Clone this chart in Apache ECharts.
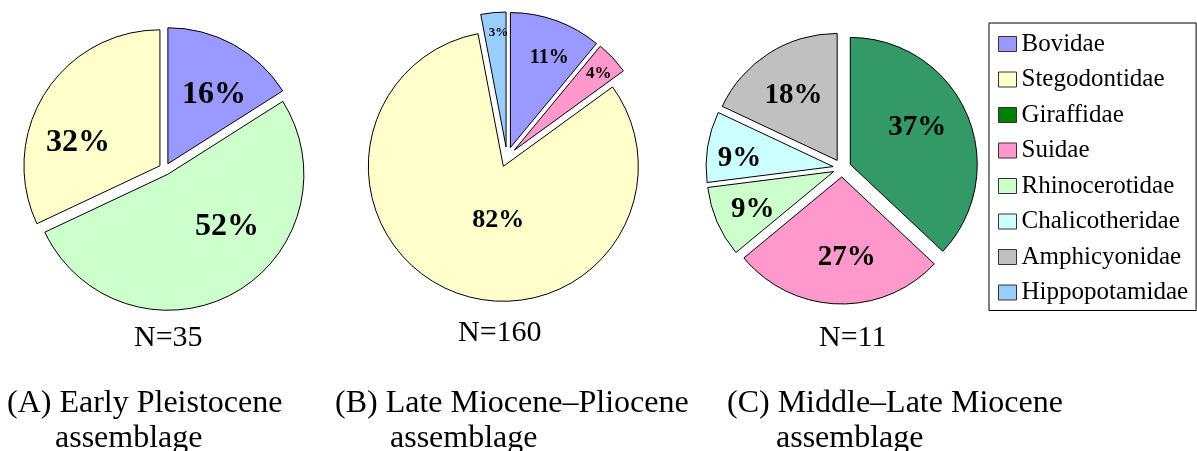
<!DOCTYPE html>
<html>
<head>
<meta charset="utf-8">
<script src="https://cdn.jsdelivr.net/npm/echarts@6/dist/echarts.min.js"></script>
<style>
html,body{margin:0;padding:0;background:#fff;}
#chart{width:1197px;height:451px;}
</style>
</head>
<body>
<div id="chart"></div>
<script>
// ---------- data ----------
const familiesA = ['Bovidae', 'Rhinocerotidae', 'Stegodontidae'];
const percentA = [16, 52, 32];
const familiesB = ['Bovidae', 'Suidae', 'Stegodontidae', 'Hippopotamidae'];
const percentB = [11, 4, 82, 3];
const familiesC = ['Giraffidae', 'Suidae', 'Rhinocerotidae', 'Chalicotheridae', 'Amphicyonidae'];
const percentC = [37, 27, 9, 9, 18];
const sampleSizes = [35, 160, 11];
const panelTitles = ['(A) Early Pleistocene', '(B) Late Miocene\u2013Pliocene', '(C) Middle\u2013Late Miocene'];
const panelSubtitle = 'assemblage';
const legendNames = ['Bovidae', 'Stegodontidae', 'Giraffidae', 'Suidae', 'Rhinocerotidae', 'Chalicotheridae', 'Amphicyonidae', 'Hippopotamidae'];

// ---------- styles ----------
const FONT = "Liberation Serif";
const familyColor = {
  Bovidae: '#9999FF', Stegodontidae: '#FFFFCC', Giraffidae: '#339966', Suidae: '#FF99CC',
  Rhinocerotidae: '#CCFFCC', Chalicotheridae: '#CCFFFF', Amphicyonidae: '#C0C0C0', Hippopotamidae: '#99CCFF'
};
const legendColor = Object.assign({}, familyColor, { Giraffidae: '#008000' });

const pies = [
  { names: familiesA, values: percentA, center: [165, 169], radius: 136, offset: 6,
    fontSizes: [32, 32, 32], nudge: [[12, -7], [25, -10], [-22, 15]] },
  { names: familiesB, values: percentB, center: [507, 157], radius: 135, offset: 10,
    fontSizes: [20, 17, 26, 13], nudge: [[15, -23], [33, -28], [21, -12], [-1, -44]] },
  { names: familiesC, values: percentC, center: [842, 168], radius: 127, offset: 9,
    fontSizes: [29, 29, 29, 29, 29], nudge: [[6, -10], [7, 14], [-20, 12], [-28, 2], [-8, -9]] }
];

const series = pies.map((p, si) => ({
  type: 'pie',
  name: 'pie' + si,
  center: p.center,
  radius: p.radius,
  startAngle: 90,
  clockwise: true,
  selectedMode: 'multiple',
  selectedOffset: p.offset,
  avoidLabelOverlap: false,
  emphasis: { disabled: true },
  silent: true,
  animation: false,
  itemStyle: { borderColor: '#000', borderWidth: 1 },
  labelLine: { show: false },
  labelLayout: function (params) {
    const n = p.nudge[params.dataIndex] || [0, 0];
    return { dx: n[0], dy: n[1] };
  },
  data: p.names.map((name, i) => ({
    name: name,
    value: p.values[i],
    selected: true,
    itemStyle: { color: familyColor[name] },
    label: {
      show: true,
      position: 'inside',
      formatter: p.values[i] + '%',
      fontFamily: FONT,
      fontWeight: 'bold',
      fontSize: p.fontSizes[i],
      color: '#000'
    }
  }))
}));

const nLeft = [134, 458, 819];
const nTop = [323, 318, 323];
const titleLeft = [7, 335, 727];
const subLeft = [55, 390, 776];

const titles = [];
sampleSizes.forEach((n, i) => {
  titles.push({
    text: 'N=' + n, left: nLeft[i], top: nTop[i], padding: 0,
    textStyle: { fontFamily: FONT, fontWeight: 'normal', fontSize: 30, lineHeight: 30, color: '#000' }
  });
});
panelTitles.forEach((t, i) => {
  titles.push({
    text: t, left: titleLeft[i], top: 387, padding: 0,
    textStyle: { fontFamily: FONT, fontWeight: 'normal', fontSize: 32, lineHeight: 34, color: '#000' }
  });
  titles.push({
    text: panelSubtitle, left: subLeft[i], top: 422, padding: 0,
    textStyle: { fontFamily: FONT, fontWeight: 'normal', fontSize: 32, lineHeight: 34, color: '#000' }
  });
});

const legendRich = { n: { fontFamily: FONT, fontSize: 25, lineHeight: 26, color: '#000' } };

const chart = echarts.init(document.getElementById('chart'), null, { renderer: 'canvas' });
chart.setOption({
  animation: false,
  backgroundColor: '#fff',
  textStyle: { fontFamily: FONT },
  title: titles,
  legend: {
    orient: 'vertical',
    left: 989,
    top: 23,
    padding: [8, 8, 5, 9],
    itemGap: 9.5,
    itemWidth: 18,
    itemHeight: 15,
    selectedMode: false,
    borderColor: '#000',
    borderWidth: 1,
    backgroundColor: '#fff',
    icon: 'rect',
    formatter: name => '{n|' + name + '}',
    textStyle: { fontFamily: FONT, fontSize: 25, lineHeight: 26, color: '#000', rich: legendRich },
    data: legendNames.map(name => ({
      name: name,
      icon: 'rect',
      itemStyle: { color: legendColor[name], borderColor: '#333', borderWidth: 1 }
    }))
  },
  series: series
});
</script>
</body>
</html>
